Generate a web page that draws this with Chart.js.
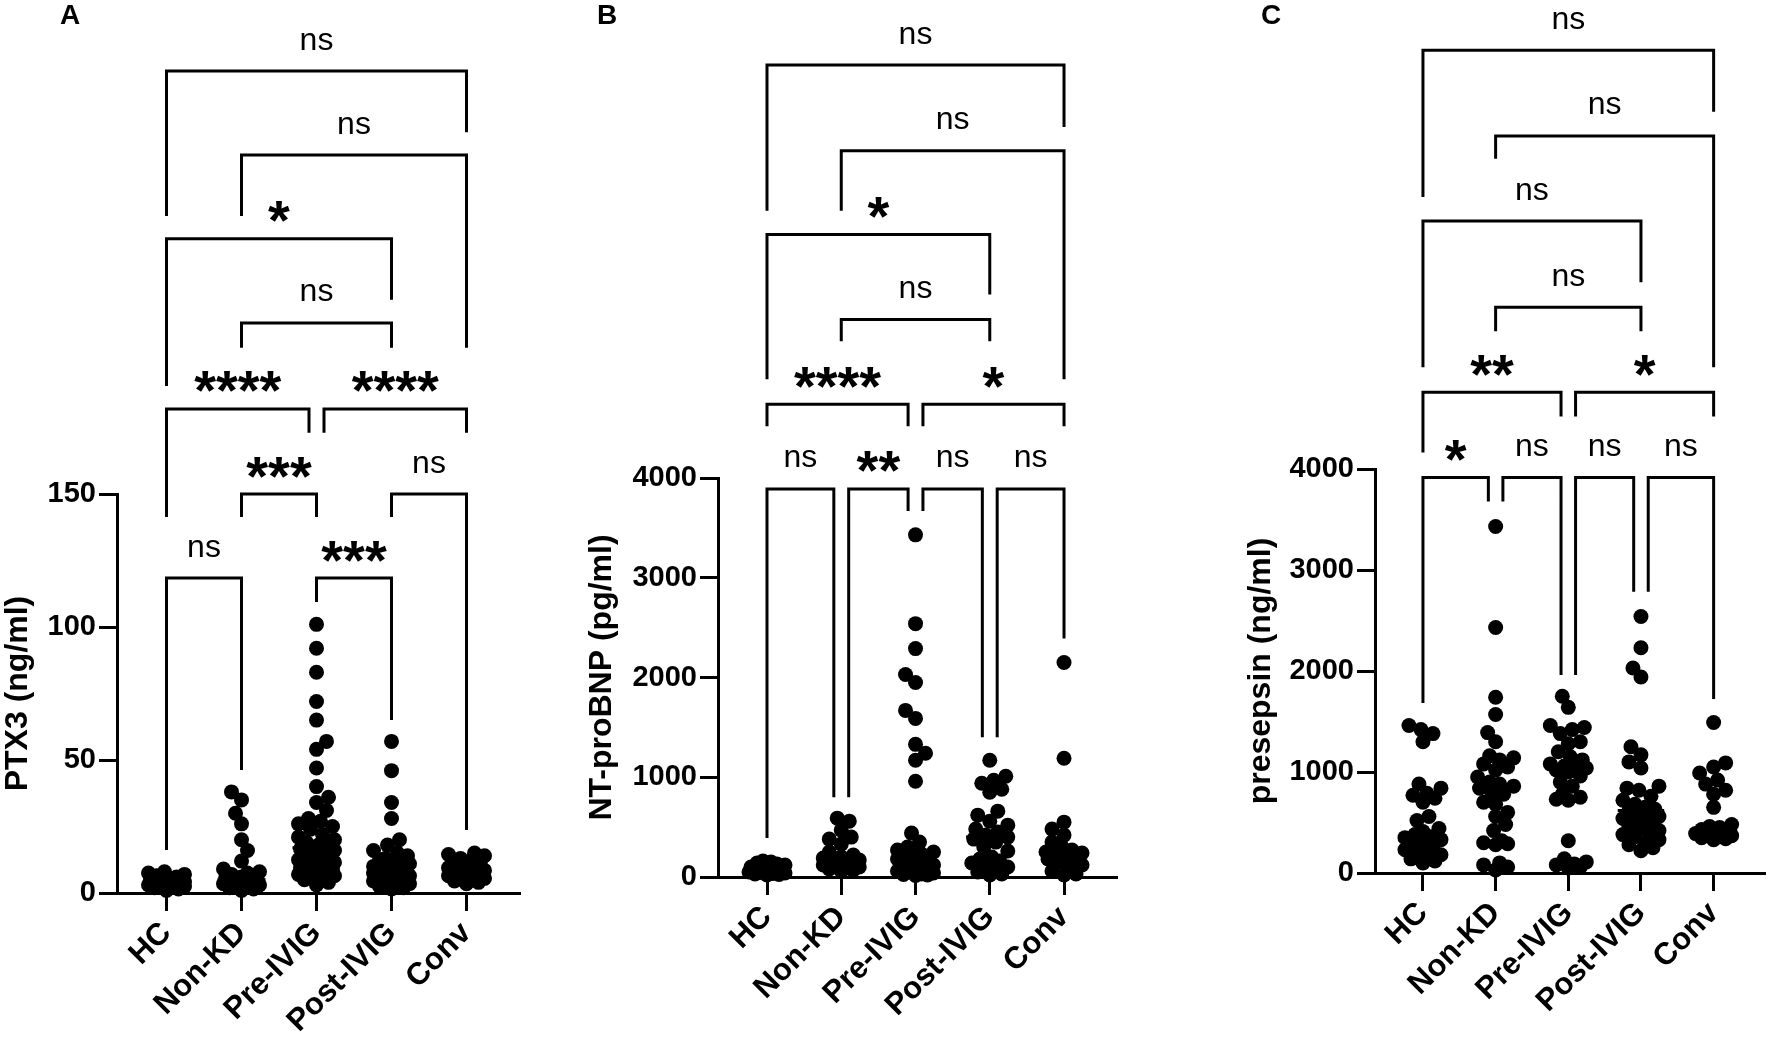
<!DOCTYPE html>
<html>
<head>
<meta charset="utf-8">
<script src="https://cdn.jsdelivr.net/npm/chart.js@4.4.1/dist/chart.umd.min.js"></script>
<style>
  html, body { margin: 0; padding: 0; background: #fff; }
  #wrap { position: relative; width: 1772px; height: 1039px; overflow: hidden; }
  canvas { position: absolute; top: 0; }
</style>
</head>
<body>
<div id="wrap">
  <canvas id="chartA" width="580" height="1039" style="left:0px"></canvas>
  <canvas id="chartB" width="600" height="1039" style="left:580px"></canvas>
  <canvas id="chartC" width="592" height="1039" style="left:1180px"></canvas>
</div>
<script>
const categories = ['HC', 'Non-KD', 'Pre-IVIG', 'Post-IVIG', 'Conv'];

// A - PTX3 (ng/ml)
const ptx3Ticks = [0, 50, 100, 150];
const ptx3HC = [8, 7.5, 7, 6.5, 6, 5.5, 5, 4.5, 4.2, 4, 3.8, 3.5, 3.2, 3, 2.8, 2.5, 2.2, 2, 1.5, 1];
const ptx3NonKD = [38, 35, 30, 26, 20, 16, 12, 9, 8, 7.5, 7, 6.5, 6, 5.5, 5, 4.8, 4.5, 4.2, 4, 3.8, 3.5, 3.2, 3, 2.5, 2, 1.5, 1];
const ptx3Pre = [101, 92, 83, 72, 65, 57, 54, 47, 40, 36, 34, 31, 28, 27, 26, 25, 24, 22, 21, 20, 19, 18, 17.5, 17,
  16.5, 16, 15, 14, 13, 12.5, 12, 11.5, 11, 10.5, 10, 9.5, 9, 8.5, 8, 7.5, 7, 6.5, 6, 5.5, 5, 4, 3];
const ptx3Post = [57, 46, 34, 28, 20, 18, 16, 15, 14, 13, 12.5, 12, 11.5, 11, 10.5, 10, 9.5, 9, 8.5, 8, 7.5, 7,
  6.5, 6, 5.5, 5, 4.5, 4, 3.5, 3, 2.5, 2, 1.5];
const ptx3Conv = [15, 14.5, 14, 13, 12, 11, 10.5, 10, 9.5, 9, 8.5, 8, 7.5, 7, 6.5, 6, 5.5, 5, 4.5, 4, 3.5];
const ptx3Medians = [4, 5, 17, 10, 8.5];
// [from, to, bar height, left leg end, right leg end, label]
const ptx3Brackets = [
  [0, 4, 309, 254.5, 286, 'ns'],
  [1, 4, 277.4, 254.5, 205, 'ns'],
  [0, 3, 246, 190.6, 223, '*'],
  [1, 3, 214.3, 205, 205, 'ns'],
  [0, 2, 182, 141.4, 173, '****'],
  [2, 4, 182, 173, 173, '****'],
  [1, 2, 150, 141.4, 141.4, '***'],
  [3, 4, 150, 141.4, 23.7, 'ns'],
  [0, 1, 118.4, 16.2, 46.2, 'ns'],
  [2, 3, 118.4, 109.4, 65, '***']
];

// B - NT-proBNP (pg/ml)
const bnpTicks = [0, 1000, 2000, 3000, 4000];
const bnpHC = [160, 150, 140, 130, 120, 110, 100, 90, 80, 75, 70, 65, 60, 55, 50, 45, 40, 35, 30, 25, 20];
const bnpNonKD = [590, 560, 470, 400, 380, 330, 250, 220, 200, 190, 180, 170, 160, 150, 140, 130, 120, 110, 100, 90, 80, 70, 60];
const bnpPre = [3430, 2540, 2290, 2030, 1950, 1670, 1590, 1330, 1240, 1170, 960, 440, 350, 300, 270, 250, 230,
  220, 210, 200, 180, 160, 140, 120, 100, 90, 80, 60, 50, 40, 30, 25, 20, 15];
const bnpPost = [1170, 1010, 970, 940, 880, 850, 660, 620, 560, 520, 480, 450, 420, 400, 380, 350, 300, 260,
  200, 180, 160, 140, 120, 100, 80, 50, 30, 20];
const bnpConv = [2150, 1190, 550, 480, 420, 350, 300, 270, 250, 240, 230, 220, 200, 180, 150, 120, 90, 60, 30, 20];
const bnpMedians = [70, 150, 217, 400, 235];
const bnpBrackets = [
  [0, 4, 8140, 6680, 7520, 'ns'],
  [1, 4, 7280, 6680, 4990, 'ns'],
  [0, 3, 6440, 4990, 5840, '*'],
  [1, 3, 5590, 5370, 5370, 'ns'],
  [0, 2, 4740, 4520, 4520, '****'],
  [2, 4, 4740, 4520, 4520, '*'],
  [0, 1, 3890, 390, 800, 'ns'],
  [1, 2, 3890, 800, 3670, '**'],
  [2, 3, 3890, 3670, 1400, 'ns'],
  [3, 4, 3890, 1400, 2390, 'ns']
];

// C - presepsin (ng/ml)
const presepsinTicks = [0, 1000, 2000, 3000, 4000];
const presepsinHC = [1460, 1420, 1380, 1300, 880, 840, 790, 770, 740, 700, 560, 520, 440, 410, 380, 360, 350,
  330, 300, 280, 260, 230, 200, 180, 160, 140, 120, 100];
const presepsinNonKD = [3430, 2430, 1740, 1570, 1390, 1300, 1160, 1140, 1120, 1080, 1050, 1020, 950, 900, 880,
  860, 840, 800, 780, 700, 680, 600, 560, 480, 420, 320, 300, 290, 280, 100, 80, 60, 30];
const presepsinPre = [1750, 1640, 1460, 1440, 1420, 1380, 1300, 1280, 1200, 1150, 1120, 1080, 1060, 1050, 1040,
  1020, 1000, 960, 900, 860, 780, 750, 730, 720, 320, 140, 110, 90, 80, 60, 50];
const presepsinPost = [2540, 2230, 2030, 1940, 1250, 1170, 1100, 1040, 860, 840, 820, 760, 720, 680, 650, 630,
  620, 600, 580, 560, 540, 520, 500, 480, 460, 440, 420, 400, 380, 360, 330, 300, 280, 250, 220];
const presepsinConv = [1490, 1090, 1050, 990, 920, 880, 820, 780, 650, 480, 460, 450, 430, 420, 400, 390, 380,
  370, 360, 350, 340, 330];
const presepsinMedians = [360, 850, 1050, 620, 425];
const presepsinBrackets = [
  [0, 4, 8145, 6693, 7537, 'ns'],
  [1, 4, 7298, 7071, 5007, 'ns'],
  [0, 3, 6455, 5007, 5850, 'ns'],
  [1, 3, 5602, 5364, 5364, 'ns'],
  [0, 2, 4759, 4164, 4521, '**'],
  [2, 4, 4759, 4521, 4521, '*'],
  [0, 1, 3916, 1684, 3678, '*'],
  [1, 2, 3916, 3678, 1961, 'ns'],
  [2, 3, 3916, 1961, 2785, 'ns'],
  [3, 4, 3916, 2785, 1723, 'ns']
];

const FONT = '"Liberation Sans", Arial, Helvetica, sans-serif';
const DOT_R = 7.5;

// page geometry of each panel (pixels)
const panels = [
  { id: 'chartA', letter: 'A', title: 'PTX3 (ng/ml)', ticks: ptx3Ticks, medians: ptx3Medians, brackets: ptx3Brackets,
    groups: [ptx3HC, ptx3NonKD, ptx3Pre, ptx3Post, ptx3Conv],
    left: 0, width: 580, axisX: 117, areaRight: 519, areaTop: 494, areaBottom: 893, titleX: 18, letterX: 60 },
  { id: 'chartB', letter: 'B', title: 'NT-proBNP (pg/ml)', ticks: bnpTicks, medians: bnpMedians, brackets: bnpBrackets,
    groups: [bnpHC, bnpNonKD, bnpPre, bnpPost, bnpConv],
    left: 580, width: 600, axisX: 718, areaRight: 1116, areaTop: 478, areaBottom: 877, titleX: 602, letterX: 597 },
  { id: 'chartC', letter: 'C', title: 'presepsin (ng/ml)', ticks: presepsinTicks, medians: presepsinMedians, brackets: presepsinBrackets,
    groups: [presepsinHC, presepsinNonKD, presepsinPre, presepsinPost, presepsinConv],
    left: 1180, width: 592, axisX: 1375, areaRight: 1770, areaTop: 469, areaBottom: 873, titleX: 1261, letterX: 1261 }
];

// spread the dots of one column sideways so they do not pile up (layout only)
function swarm(vals, col, ys, unit) {
  const minDist = 12, step = 2, maxOff = 18;
  const placed = [];
  const order = vals.map((v, k) => k).sort((a, b) => vals[a] - vals[b]);
  order.forEach((k, n) => {
    const py = ys.getPixelForValue(vals[k]);
    let chosen = null, best = 0, bestD = -1;
    for (let s = 0; s <= maxOff && chosen === null; s += step) {
      const cands = s === 0 ? [0] : (n % 2 ? [s, -s] : [-s, s]);
      for (const off of cands) {
        let d = Infinity;
        placed.forEach(p => { d = Math.min(d, Math.hypot(p.x - off, p.y - py)); });
        if (d >= minDist) { chosen = off; break; }
        if (d > bestD) { bestD = d; best = off; }
      }
    }
    if (chosen === null) chosen = best;
    placed.push({ x: chosen, y: py });
  });
  const out = [];
  order.forEach((k, n) => out.push({ x: col + placed[n].x / unit, y: vals[k] }));
  return out;
}

const bracketPlugin = {
  id: 'brackets',
  afterDatasetsDraw(chart, args, opts) {
    const p = opts.panel;
    const { ctx } = chart;
    const xs = chart.scales.x, ys = chart.scales.y;
    ctx.save();
    ctx.strokeStyle = '#000';
    ctx.fillStyle = '#000';
    ctx.lineWidth = 3;
    ctx.lineCap = 'butt';
    ctx.lineJoin = 'miter';
    p.brackets.forEach(b => {
      const [a, c, bar, legA, legC, label] = b;
      // legs step inward where two brackets on one row meet at a column
      const shA = p.brackets.some(o => o !== b && o[2] === bar && o[1] === a) ? 0.1 : 0;
      const shC = p.brackets.some(o => o !== b && o[2] === bar && o[0] === c) ? -0.1 : 0;
      const xa = xs.getPixelForValue(a + shA), xc = xs.getPixelForValue(c + shC);
      const yb = ys.getPixelForValue(bar);
      ctx.beginPath();
      ctx.moveTo(xa, ys.getPixelForValue(legA));
      ctx.lineTo(xa, yb);
      ctx.lineTo(xc, yb);
      ctx.lineTo(xc, ys.getPixelForValue(legC));
      ctx.stroke();
      const stars = label !== 'ns';
      ctx.font = stars ? 'bold 56px ' + FONT : '32px ' + FONT;
      ctx.textAlign = 'center';
      ctx.textBaseline = 'alphabetic';
      const m = ctx.measureText(label);
      const cy = yb - (stars ? 27 : 30);
      ctx.fillText(label, (xa + xc) / 2, cy + (m.actualBoundingBoxAscent - m.actualBoundingBoxDescent) / 2);
    });
    ctx.font = 'bold 28px ' + FONT;
    ctx.textAlign = 'left';
    ctx.fillText(p.letter, p.letterX - p.left, 24);
    ctx.restore();
  }
};

panels.forEach(p => {
  const titleSize = 32;
  const padLeft = p.titleX - p.left - titleSize * 1.2 / 2;
  const datasets = p.groups.map((vals, i) => ({
    data: vals.map(v => ({ x: i, y: v })),
    backgroundColor: '#000',
    borderWidth: 0,
    pointRadius: DOT_R,
    pointHoverRadius: DOT_R,
    clip: false
  }));
  p.medians.forEach((m, i) => datasets.push({
    data: [{ x: i - 0.32, y: m }, { x: i + 0.32, y: m }],
    showLine: true,
    borderColor: '#000',
    borderWidth: 3,
    pointRadius: 0,
    clip: false
  }));

  const chart = new Chart(document.getElementById(p.id), {
    type: 'scatter',
    data: { datasets },
    options: {
      responsive: false,
      animation: false,
      events: [],
      layout: {
        padding: { left: padLeft, right: p.left + p.width - p.areaRight, top: p.areaTop, bottom: 0 }
      },
      plugins: {
        legend: { display: false },
        tooltip: { enabled: false },
        brackets: { panel: p }
      },
      scales: {
        x: {
          type: 'linear',
          min: -0.66,
          max: 4.7,
          afterBuildTicks: s => { s.ticks = categories.map((c, i) => ({ value: i })); },
          afterFit: s => { s.height = 1039 - p.areaBottom; },
          ticks: {
            autoSkip: false,
            maxRotation: 45,
            minRotation: 45,
            color: '#000',
            padding: 4,
            font: { family: FONT, size: 31, weight: 'bold' },
            callback: v => categories[v]
          },
          grid: { drawOnChartArea: false, drawTicks: true, tickLength: 18, color: '#000', lineWidth: 3 },
          border: { display: true, color: '#000', width: 3 }
        },
        y: {
          min: 0,
          max: p.ticks[p.ticks.length - 1],
          afterBuildTicks: s => { s.ticks = p.ticks.map(v => ({ value: v })); },
          afterFit: s => { s.width = p.axisX - p.left - padLeft; },
          ticks: {
            color: '#000',
            padding: 3,
            font: { family: FONT, size: 29, weight: 'bold' },
            callback: v => String(v)
          },
          grid: { drawOnChartArea: false, drawTicks: true, tickLength: 18, color: '#000', lineWidth: 3 },
          border: { display: true, color: '#000', width: 3 },
          title: {
            display: true,
            text: p.title,
            color: '#000',
            padding: 0,
            font: { family: FONT, size: titleSize, weight: 'bold' }
          }
        }
      }
    },
    plugins: [bracketPlugin]
  });

  const xs = chart.scales.x, ys = chart.scales.y;
  const unit = xs.getPixelForValue(1) - xs.getPixelForValue(0);
  p.groups.forEach((vals, i) => { chart.data.datasets[i].data = swarm(vals, i, ys, unit); });
  chart.update('none');
});
</script>
</body>
</html>
